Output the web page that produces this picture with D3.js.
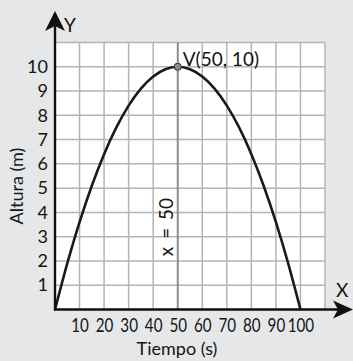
<!DOCTYPE html>
<html>
<head>
<meta charset="utf-8">
<script src="https://cdn.jsdelivr.net/npm/d3@7/dist/d3.min.js"></script>
<style>
  html, body { margin: 0; padding: 0; background: #e6e7e9; }
  svg { display: block; }
  text { font-family: Lato, "Open Sans", sans-serif; fill: #151515; }
</style>
</head>
<body>
<svg id="chart" width="353" height="361"></svg>
<script>
// Trajectory: time (s) vs height (m)
const timeS   = [0, 5, 10, 15, 20, 25, 30, 35, 40, 45, 50, 55, 60, 65, 70, 75, 80, 85, 90, 95, 100];
const heightM = [0, 1.9, 3.6, 5.1, 6.4, 7.5, 8.4, 9.1, 9.6, 9.9, 10, 9.9, 9.6, 9.1, 8.4, 7.5, 6.4, 5.1, 3.6, 1.9, 0];

const xTicks = [10, 20, 30, 40, 50, 60, 70, 80, 90, 100];
const yTicks = [1, 2, 3, 4, 5, 6, 7, 8, 9, 10];
const vertex = { t: 50, h: 10, label: "V(50, 10)" };
const axisLine = { t: 50, label: "x = 50" };

const svg = d3.select("#chart");
const W = 353, H = 361;

const x = d3.scaleLinear().domain([0, 110]).range([55, 325]);
const y = d3.scaleLinear().domain([0, 11]).range([309.5, 42.5]);

// background
svg.append("rect").attr("width", W).attr("height", H).attr("fill", "#e6e7e9");

// plotting area
svg.append("rect")
  .attr("x", x(0)).attr("y", y(11))
  .attr("width", x(110) - x(0)).attr("height", y(0) - y(11))
  .attr("fill", "#ffffff");

// grid
const grid = svg.append("g").attr("stroke", "#b4b4b4").attr("stroke-width", 1.5);
grid.selectAll("line.v").data(d3.range(0, 111, 10)).join("line")
  .attr("class", "v")
  .attr("x1", d => x(d)).attr("x2", d => x(d))
  .attr("y1", y(0)).attr("y2", y(11));
grid.selectAll("line.h").data(d3.range(0, 12, 1)).join("line")
  .attr("class", "h")
  .attr("x1", x(0)).attr("x2", x(110))
  .attr("y1", d => y(d)).attr("y2", d => y(d));

// axis of symmetry
svg.append("line")
  .attr("x1", x(axisLine.t)).attr("x2", x(axisLine.t))
  .attr("y1", y(0)).attr("y2", y(11))
  .attr("stroke", "#8a8a8a").attr("stroke-width", 1.8);

// trajectory curve
const line = d3.line()
  .x((d, i) => x(timeS[i]))
  .y(d => y(d))
  .curve(d3.curveNatural);
svg.append("path")
  .attr("d", line(heightM))
  .attr("fill", "none")
  .attr("stroke", "#1a1a1a")
  .attr("stroke-width", 2.6);

// axes lines with arrowheads
const ax = svg.append("g");
ax.append("line")
  .attr("x1", x(0)).attr("x2", x(0))
  .attr("y1", y(0) + 1).attr("y2", 26)
  .attr("stroke", "#111").attr("stroke-width", 2.4);
ax.append("line")
  .attr("x1", x(0) - 1).attr("x2", 340)
  .attr("y1", y(0)).attr("y2", y(0))
  .attr("stroke", "#111").attr("stroke-width", 2.4);

const yx = x(0), xy = y(0);
ax.append("path")
  .attr("d", `M${yx},11 L${yx + 10},31 L${yx},26 L${yx - 10},31 Z`)
  .attr("fill", "#111");
ax.append("path")
  .attr("d", `M353,${xy} L333,${xy - 9} L338,${xy} L333,${xy + 9} Z`)
  .attr("fill", "#111");

svg.append("text").attr("x", 64).attr("y", 32).attr("font-size", 19).text("Y");
svg.append("text").attr("x", 336).attr("y", 297).attr("font-size", 19).text("X");

// y axis ticks
const yAxis = d3.axisLeft(y).tickValues(yTicks).tickSize(0).tickPadding(0)
  .tickFormat(d3.format("d"));
const gy = svg.append("g").attr("transform", `translate(${x(0) - 7},0)`).call(yAxis);
gy.select(".domain").remove();
gy.selectAll("text")
  .attr("font-size", 18)
  .attr("font-family", "Lato, 'Open Sans', sans-serif")
  .attr("fill", "#151515");

// x axis ticks (narrow set so the labels fit the grid cells)
const xAxis = d3.axisBottom(x).tickValues(xTicks).tickSize(0).tickPadding(0)
  .tickFormat(d3.format("d"));
const gx = svg.append("g").attr("transform", `translate(0,${y(0)})`).call(xAxis);
gx.select(".domain").remove();
gx.selectAll("text")
  .attr("font-size", 19)
  .attr("font-family", "Lato, 'Open Sans', sans-serif")
  .attr("fill", "#151515")
  .attr("dy", null)
  .attr("y", 22.5)
  .attr("transform", "scale(0.8,1)");

// axis titles
svg.append("text")
  .attr("x", 177).attr("y", 355)
  .attr("text-anchor", "middle").attr("font-size", 18)
  .text("Tiempo (s)");
svg.append("text")
  .attr("transform", `translate(23,186) rotate(-90)`)
  .attr("text-anchor", "middle").attr("font-size", 18)
  .text("Altura (m)");

// axis of symmetry label
svg.append("text")
  .attr("transform", `translate(173,227) rotate(-90)`)
  .attr("text-anchor", "middle").attr("font-size", 19)
  .attr("word-spacing", 3)
  .attr("xml:space", "preserve")
  .text(axisLine.label);

// vertex
svg.append("circle")
  .attr("cx", x(vertex.t)).attr("cy", y(vertex.h)).attr("r", 3.6)
  .attr("fill", "#8c8c8c").attr("stroke", "#333").attr("stroke-width", 1);
svg.append("text")
  .attr("x", x(vertex.t) + 5).attr("y", y(vertex.h) - 1)
  .attr("font-size", 19)
  .text(vertex.label);
</script>
</body>
</html>
